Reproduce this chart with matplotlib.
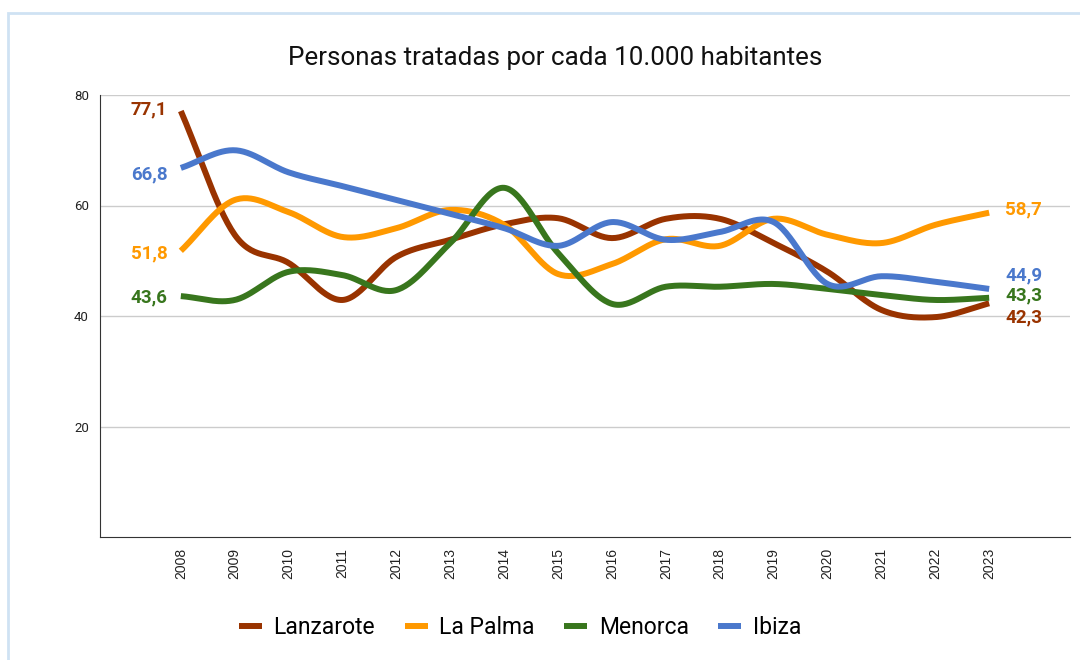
import numpy as np
import matplotlib
matplotlib.use("Agg")
import matplotlib.pyplot as plt
from matplotlib.patches import Rectangle

years = ["2008", "2009", "2010", "2011", "2012", "2013", "2014", "2015",
         "2016", "2017", "2018", "2019", "2020", "2021", "2022", "2023"]
lanzarote = [77.1, 54.7, 49.6, 42.9, 50.7, 53.8, 56.6, 57.7, 54.1, 57.6, 57.6, 53.2, 48.0, 41.1, 39.8, 42.3]
la_palma = [51.8, 61.0, 58.8, 54.3, 55.9, 59.2, 56.5, 47.6, 49.4, 53.9, 52.7, 57.6, 54.7, 53.2, 56.5, 58.7]
menorca = [43.6, 42.9, 48.0, 47.4, 44.7, 53.2, 63.2, 51.4, 42.2, 45.3, 45.3, 45.8, 44.9, 43.8, 42.9, 43.3]
ibiza = [66.8, 70.0, 66.0, 63.5, 61.0, 58.5, 55.9, 52.7, 57.0, 53.8, 55.2, 57.0, 45.8, 47.2, 46.2, 44.9]

series = [("Lanzarote", lanzarote, "#993300"),
          ("La Palma", la_palma, "#ff9900"),
          ("Menorca", menorca, "#38761d"),
          ("Ibiza", ibiza, "#4a78cc")]


def smooth(x, y, n=30):
    x = np.asarray(x, float)
    y = np.asarray(y, float)
    px = np.concatenate([[2 * x[0] - x[1]], x, [2 * x[-1] - x[-2]]])
    py = np.concatenate([[2 * y[0] - y[1]], y, [2 * y[-1] - y[-2]]])
    xs, ys = [], []
    for i in range(1, len(px) - 2):
        t = np.linspace(0, 1, n, endpoint=(i == len(px) - 3))
        for P, out in ((px, xs), (py, ys)):
            p0, p1, p2, p3 = P[i - 1], P[i], P[i + 1], P[i + 2]
            out.append(0.5 * ((2 * p1) + (-p0 + p2) * t +
                              (2 * p0 - 5 * p1 + 4 * p2 - p3) * t ** 2 +
                              (-p0 + 3 * p1 - 3 * p2 + p3) * t ** 3))
    return np.concatenate(xs), np.concatenate(ys)


fig = plt.figure(figsize=(10.8, 6.6), dpi=100)
fig.patches.append(Rectangle((8 / 1080, -0.1), 1.2, (660 - 13) / 660 + 0.1,
                             transform=fig.transFigure, fill=False,
                             edgecolor="#cfe2f3", linewidth=2))

ax = fig.add_axes([100 / 1080, (660 - 537) / 660, (1070 - 100) / 1080, (537 - 95) / 660])
x = np.arange(len(years))
for name, vals, color in series:
    sx, sy = smooth(x, vals)
    ax.plot(sx, sy, color=color, linewidth=4.3, label=name, solid_capstyle="butt")

ax.set_xlim(-1.5, 16.5)
ax.set_ylim(0, 80)
ax.set_yticks([20, 40, 60, 80])
ax.set_yticklabels(["20", "40", "60", "80"], fontsize=9.5, family="Roboto", color="#222222")
ax.set_xticks(x)
ax.set_xticklabels(years, rotation=90, fontsize=10, family="Liberation Sans", color="#222222")
ax.tick_params(length=0, pad=8)
ax.tick_params(axis="y", pad=8)
ax.grid(axis="y", color="#cccccc", linewidth=1)
ax.set_axisbelow(True)
for s in ["top", "right"]:
    ax.spines[s].set_visible(False)
ax.spines["left"].set_color("#333333")
ax.spines["bottom"].set_color("#333333")

# label positions (pixel rows from the reference converted to data units)
start_labels = [("77,1", 77.3, "#993300"), ("66,8", 65.7, "#4a78cc"),
                ("51,8", 51.4, "#ff9900"), ("43,6", 43.4, "#38761d")]
for txt, v, c in start_labels:
    ax.text(-0.25, v, txt, color=c, fontsize=13.5, fontweight="bold", family="Roboto",
            ha="right", va="center")
end_labels = [("58,7", 59.2, "#ff9900"), ("44,9", 47.4, "#4a78cc"),
              ("43,3", 43.8, "#38761d"), ("42,3", 39.8, "#993300")]
for txt, v, c in end_labels:
    ax.text(15.3, v, txt, color=c, fontsize=13.5, fontweight="bold", family="Roboto",
            ha="left", va="center")

fig.text(555 / 1080, 1 - 58 / 660, "Personas tratadas por cada 10.000 habitantes",
         ha="center", va="center", fontsize=18.7, family="Roboto", color="#111111")

handles, labels = ax.get_legend_handles_labels()
fig.legend(handles, labels, loc="center", bbox_to_anchor=(520 / 1080, 1 - 628 / 660),
           ncol=4, frameon=False, handlelength=1.0, handletextpad=0.5,
           columnspacing=1.3, prop={"family": "Roboto", "size": 16.5})

fig.savefig("out.png", dpi=100)
